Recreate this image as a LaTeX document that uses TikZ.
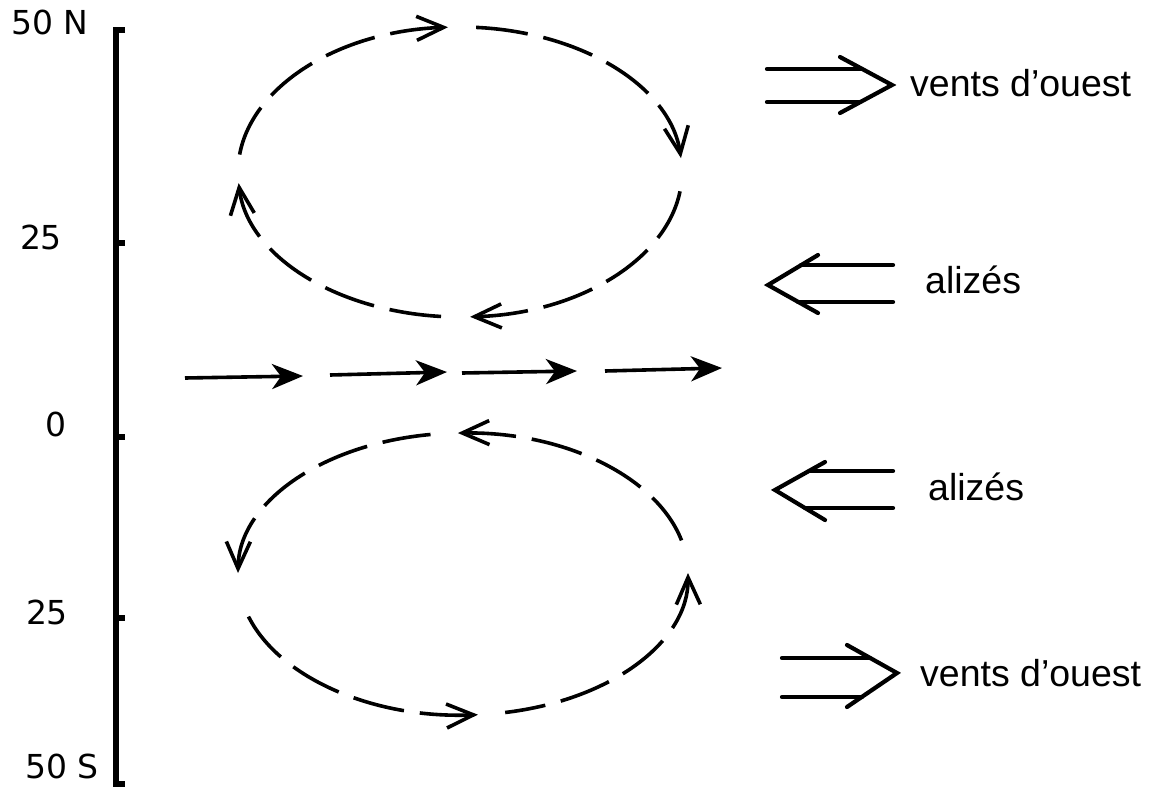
\documentclass[tikz,border=0pt]{standalone}
\usepackage{fontspec}
\setmainfont{Liberation Sans}
\newfontfamily\axisfont{DejaVu Sans}
\usetikzlibrary{arrows.meta,calc}
\begin{document}
\begin{tikzpicture}[x=1pt,y=-1pt,
  axisline/.style={line width=5.2pt},
  cellarc/.style={line width=3.6pt, dash pattern=on 52pt off 16pt,
    {Straight Barb[length=27pt,width=24pt,line width=3.6pt]}-},
  flowarrow/.style={line width=3.6pt,-{Stealth[length=31pt,width=25pt,inset=9pt]}},
  dbl/.style={line width=4.2pt, line cap=round, line join=miter},
  lab/.style={inner sep=0pt, font=\fontsize{37.5}{40}\selectfont},
  axlab/.style={inner sep=0pt, font=\axisfont\fontsize{33}{36}\selectfont}]
\useasboundingbox (0,0) rectangle (1149,787);

% latitude axis
\coordinate (axtop) at (116,30);
\coordinate (axbot) at (116,784);
\draw[axisline] ($(axtop)+(9,0)$) -- (axtop) -- (axbot) -- ++(9,0);
\coordinate (t25n) at (116,243);
\coordinate (t0) at (116,437);
\coordinate (t25s) at (116,618);
\draw[axisline] (t25n) -- ++(9,0);
\draw[axisline] (t0) -- ++(9,0);
\draw[axisline] (t25s) -- ++(9,0);
\node[axlab] (l50n) at (50,22) {50 N};
\node[axlab] (l25n) at (41,237) {25};
\node[axlab] (l0) at (56,424) {0};
\node[axlab] (l25s) at (47,612) {25};
\node[axlab] (l50s) at (62,766) {50 S};

% northern cell (clockwise on screen)
\coordinate (cn) at (460,172);
\draw[cellarc] (cn) ++(-5.5:222 and 145) arc[start angle=-5.5, end angle=-86, x radius=222, y radius=145];
\draw[cellarc] (cn) ++(87.4:222 and 145) arc[start angle=87.4, end angle=6.5, x radius=222, y radius=145];
\draw[cellarc] (cn) ++(175.6:222 and 145) arc[start angle=175.6, end angle=94.4, x radius=222, y radius=145];
\draw[cellarc] (cn) ++(266.9:222 and 145) arc[start angle=266.9, end angle=185.5, x radius=222, y radius=145];

% southern cell (counter-clockwise on screen)
\coordinate (cs) at (463,574);
\draw[cellarc] (cs) ++(180.4:225 and 141) arc[start angle=180.4, end angle=261.7, x radius=225, y radius=141];
\draw[cellarc] (cs) ++(86.2:225 and 141) arc[start angle=86.2, end angle=166, x radius=225, y radius=141];
\draw[cellarc] (cs) ++(-0.4:225 and 141) arc[start angle=-0.4, end angle=79.2, x radius=225, y radius=141];
\draw[cellarc] (cs) ++(268.7:225 and 141) arc[start angle=268.7, end angle=350, x radius=225, y radius=141];

% equatorial flow
\coordinate (e1a) at (185,378); \coordinate (e1b) at (303,376);
\coordinate (e2a) at (330,375); \coordinate (e2b) at (447,372);
\coordinate (e3a) at (462,373); \coordinate (e3b) at (577,371);
\coordinate (e4a) at (605,371); \coordinate (e4b) at (722,368);
\draw[flowarrow] (e1a) -- (e1b);
\draw[flowarrow] (e2a) -- (e2b);
\draw[flowarrow] (e3a) -- (e3b);
\draw[flowarrow] (e4a) -- (e4b);

% westerlies north
\coordinate (wnT) at (892,85);
\draw[dbl] (840,57) -- (wnT) -- (840,113);
\draw[dbl] (767,69) -- (862,69);
\draw[dbl] (767,102) -- (860,102);
\node[lab, anchor=west] (wn) at (910,83) {vents d'ouest};

% trade winds north
\coordinate (anT) at (768,285);
\draw[dbl] (818,255) -- (anT) -- (818,313);
\draw[dbl] (893,265) -- (801,265);
\draw[dbl] (893,302) -- (798,302);
\node[lab, anchor=west] (an) at (925,280) {alizés};

% trade winds south
\coordinate (asT) at (775,490);
\draw[dbl] (825,462) -- (asT) -- (825,520);
\draw[dbl] (893,471) -- (809,471);
\draw[dbl] (893,508) -- (805,508);
\node[lab, anchor=west] (as) at (928,487) {alizés};

% westerlies south
\coordinate (wsT) at (897,673);
\draw[dbl] (847,645) -- (wsT) -- (847,707);
\draw[dbl] (782,658) -- (870,658);
\draw[dbl] (782,697) -- (862,697);
\node[lab, anchor=west] (ws) at (920,673) {vents d'ouest};
\end{tikzpicture}
\end{document}
